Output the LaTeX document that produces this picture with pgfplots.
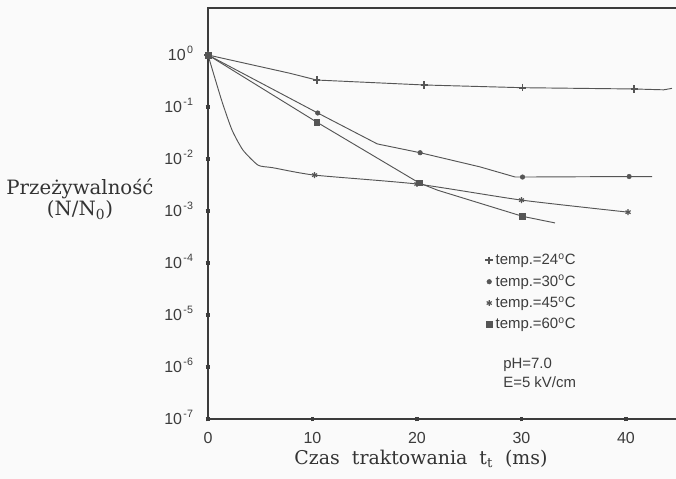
\documentclass[border=0pt]{standalone}
\usepackage{fontspec}
\setmainfont{DejaVu Serif}
\setsansfont{Liberation Sans}
\usepackage{pgfplots}
\pgfplotsset{compat=1.18}
\definecolor{ln}{RGB}{85,85,85}
\definecolor{ax}{RGB}{60,60,60}
\newcommand{\ex}[1]{10\kern1pt\raisebox{0.45em}{\fontsize{8}{9}\selectfont #1}}
\begin{document}
\begin{tikzpicture}
\useasboundingbox[fill=white!98!black] (-156pt,-45pt) rectangle (351pt,314.25pt);
\begin{axis}[
  at={(0,0)}, anchor=south west,
  scale only axis, width=376.2pt, height=308.25pt,
  xmin=0, xmax=48, ymode=log, ymin=1e-7, ymax=8.01,
  axis line style={ax, line width=0.8pt},
  xtick={0,10,20,30,40}, xticklabels={0,10,20,30,40},
  ytick={1e-7,1e-6,1e-5,1e-4,1e-3,1e-2,1e-1,1},
  yticklabels={\ex{-7},\ex{-6},\ex{-5},\ex{-4},\ex{-3},\ex{-2},\ex{-1},\ex{0}},
  yminorticks=false, xminorticks=false,
  tick pos=left, tick align=center, major tick length=3.5pt,
  every tick/.style={ax, line width=2.4pt},
  ticklabel style={font=\sffamily\fontsize{12}{14}\selectfont, text=ax},
  yticklabel style={xshift=-6pt, yshift=1pt},
  xticklabel style={yshift=-5pt},
  legend style={at={(0.55,0.412)}, anchor=north west, draw=none, fill=none,
    font=\sffamily\fontsize{11.2}{12.5}\selectfont, text=ax, row sep=2.3pt, inner sep=1pt},
  legend cell align=left,
  clip=false,
]
% 24 C
\addplot[ln, line width=0.7pt, forget plot] coordinates {(0,1) (7.8,0.447) (10.4,0.33) (20.7,0.265) (30.1,0.235) (40.8,0.222) (43.6,0.214) (44.4,0.228)};
\addplot[only marks, mark=+, mark size=2.8pt, ln, mark options={line width=1.4pt}] coordinates {(0,1) (10.4,0.33) (20.7,0.265) (30.1,0.235) (40.8,0.222)};
\addlegendentry{temp.=24\textsuperscript{o}C}
% 30 C
\addplot[ln, line width=0.7pt, forget plot] coordinates {(0,1) (10.5,0.0767) (16.2,0.0195) (20.3,0.0132) (26,0.00708) (29.4,0.0045) (30.1,0.0045) (40.3,0.0046) (42.5,0.0046)};
\addplot[only marks, mark=*, mark size=1.7pt, ln] coordinates {(0,1) (10.5,0.0767) (20.3,0.0132) (30.1,0.0045) (40.3,0.0046)};
\addlegendentry{temp.=30\textsuperscript{o}C}
% 45 C
\addplot[ln, line width=0.7pt, smooth, tension=0.35, forget plot] coordinates {(0,1) (1.3,0.135) (2.3,0.036) (3.35,0.0148) (4.8,0.0076) (6.2,0.0068) (10.2,0.0049) (20,0.0033) (30,0.00162) (40.2,0.00095)};
\addplot[only marks, mark=asterisk, mark size=2.2pt, ln, mark options={line width=0.9pt}] coordinates {(0,1) (10.2,0.0049) (20,0.0033) (30,0.00162) (40.2,0.00095)};
\addlegendentry{temp.=45\textsuperscript{o}C}
% 60 C
\addplot[ln, line width=0.7pt, forget plot] coordinates {(0,1) (10.4,0.0513) (20.2,0.00347) (22,0.0025) (30.1,0.00079) (33.2,0.00059)};
\addplot[only marks, mark=square*, mark size=2.1pt, ln] coordinates {(0,1) (10.4,0.0513) (20.2,0.00347) (30.1,0.00079)};
\addlegendentry{temp.=60\textsuperscript{o}C}
\end{axis}
\node[font=\sffamily\fontsize{11.2}{12.5}\selectfont, text=ax, anchor=west] at (218pt,40.5pt) {pH=7.0};
\node[font=\sffamily\fontsize{11.2}{12.5}\selectfont, text=ax, anchor=west] at (218pt,28pt) {E=5 kV/cm};
\node[font=\fontsize{14.8}{17}\selectfont, text=black!80] at (-96pt,173pt) {Przeżywalność};
\node[font=\fontsize{14.8}{17}\selectfont, text=black!80] at (-96pt,156.5pt) {(N/N\textsubscript{0})};
\node[font=\fontsize{14.2}{17}\selectfont, text=black!80] at (159.75pt,-29.75pt) {Czas\ \ traktowania\ \ t\textsubscript{t}\ \ (ms)};
\end{tikzpicture}
\end{document}
